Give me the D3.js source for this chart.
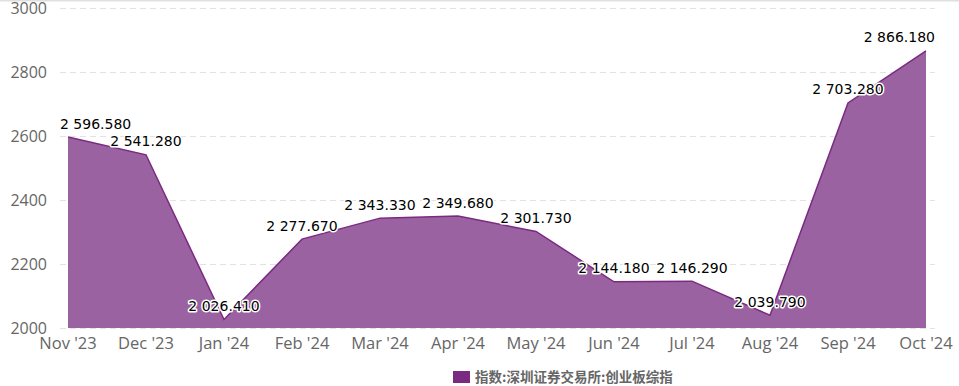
<!DOCTYPE html>
<html>
<head>
<meta charset="utf-8">
<script src="https://cdn.jsdelivr.net/npm/d3@7"></script>
<style>
  body { margin: 0; background: #fff; }
</style>
</head>
<body>
<div id="chart"></div>
<script>
var months = ["Nov '23", "Dec '23", "Jan '24", "Feb '24", "Mar '24", "Apr '24", "May '24", "Jun '24", "Jul '24", "Aug '24", "Sep '24", "Oct '24"];
var values = [2596.58, 2541.28, 2026.41, 2277.67, 2343.33, 2349.68, 2301.73, 2144.18, 2146.29, 2039.79, 2703.28, 2866.18];
var yTicks = [2000, 2200, 2400, 2600, 2800, 3000];
var seriesName = "指数:深圳证券交易所:创业板综指";

var width = 959, height = 386;
var plotLeft = 60, plotRight = 935;

var svg = d3.select('#chart').append('svg')
  .attr('width', width)
  .attr('height', height);

var x = d3.scalePoint().domain(months).range([68, 926]);
var y = d3.scaleLinear().domain([2000, 3000]).range([328, 8]);

// top border
svg.append('line')
  .attr('x1', 0).attr('x2', width)
  .attr('y1', 0.5).attr('y2', 0.5)
  .style('stroke', '#e0e0e0')
  .style('stroke-width', 2);

// grid
svg.append('g').selectAll('line')
  .data(yTicks)
  .enter().append('line')
  .attr('x1', plotLeft).attr('x2', plotRight)
  .attr('y1', function(d) { return y(d) + 0.5; })
  .attr('y2', function(d) { return y(d) + 0.5; })
  .style('stroke', '#e2e2e2')
  .style('stroke-dasharray', '6,4');

// y labels
svg.append('g').selectAll('text')
  .data(yTicks)
  .enter().append('text')
  .attr('x', 47)
  .attr('y', function(d) { return y(d) + 6; })
  .attr('text-anchor', 'end')
  .style('font-family', 'Open Sans')
  .style('font-size', '16px')
  .style('fill', '#666')
  .text(function(d) { return d; });

// x labels
svg.append('g').selectAll('text')
  .data(months)
  .enter().append('text')
  .attr('x', function(d) { return x(d); })
  .attr('y', 349)
  .attr('text-anchor', 'middle')
  .style('font-family', 'Open Sans')
  .style('font-size', '16.5px')
  .style('fill', '#666')
  .text(function(d) { return d; });

var pts = months.map(function(m, i) { return { m: m, v: values[i] }; });

var area = d3.area()
  .x(function(d) { return x(d.m); })
  .y0(y(2000))
  .y1(function(d) { return y(d.v); });

var line = d3.line()
  .x(function(d) { return x(d.m); })
  .y(function(d) { return y(d.v); });

svg.append('path')
  .datum(pts)
  .attr('d', area)
  .style('fill', '#9a62a0');

svg.append('path')
  .datum(pts)
  .attr('d', line)
  .style('fill', 'none')
  .style('stroke', '#7b2a82')
  .style('stroke-width', 1.5);

// data labels
function fmt(v) {
  var s = v.toFixed(3);
  var parts = s.split('.');
  return parts[0].replace(/\B(?=(\d{3})+(?!\d))/g, ' ') + '.' + parts[1];
}

var labels = svg.append('g').selectAll('text')
  .data(pts)
  .enter().append('text')
  .attr('y', function(d) { return y(d.v) - 8.5; })
  .style('font-family', 'DejaVu Sans')
  .style('font-size', '14px')
  .style('fill', '#000')
  .style('stroke', '#fff')
  .style('stroke-width', 3)
  .style('stroke-linejoin', 'round')
  .style('paint-order', 'stroke')
  .text(function(d) { return fmt(d.v); });

labels.each(function(d) {
  var w = this.getComputedTextLength();
  var left = x(d.m) - w / 2;
  if (left < plotLeft) left = plotLeft;
  if (left + w > plotRight) left = plotRight - w;
  d3.select(this).attr('x', left);
});

// legend
svg.append('rect')
  .attr('x', 453).attr('y', 371)
  .attr('width', 17).attr('height', 12)
  .style('fill', '#7b2a82');

svg.append('text')
  .attr('x', 475)
  .attr('y', 382)
  .style('font-family', 'Noto Sans CJK SC')
  .style('font-size', '13.5px')
  .style('font-weight', 'bold')
  .style('fill', '#666')
  .text(seriesName);
</script>
</body>
</html>
